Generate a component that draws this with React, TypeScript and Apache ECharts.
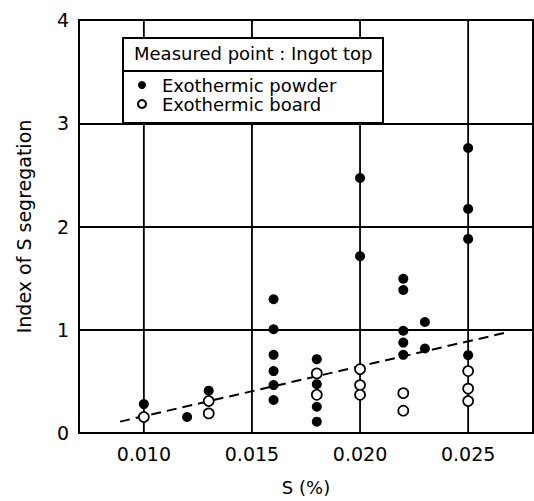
import React, { useEffect, useRef } from "react";
import * as echarts from "echarts";

const xTickValues = [0.01, 0.015, 0.02, 0.025];
const yTickLabels = ["0", "1", "2", "3", "4"];

const powderPoints: [number, number][] = [
  [0.010, 0.28], [0.012, 0.155], [0.013, 0.41],
  [0.016, 1.295], [0.016, 1.005], [0.016, 0.757], [0.016, 0.60], [0.016, 0.464], [0.016, 0.32],
  [0.018, 0.715], [0.018, 0.473], [0.018, 0.254], [0.018, 0.11],
  [0.020, 2.47], [0.020, 1.713],
  [0.022, 1.494], [0.022, 1.385], [0.022, 0.99], [0.022, 0.876], [0.022, 0.757],
  [0.023, 1.075], [0.023, 0.818],
  [0.025, 2.76], [0.025, 2.17], [0.025, 1.88], [0.025, 0.754],
];

const boardPoints: [number, number][] = [
  [0.010, 0.155], [0.013, 0.31], [0.013, 0.19],
  [0.018, 0.577], [0.018, 0.37],
  [0.020, 0.618], [0.020, 0.464], [0.020, 0.37],
  [0.022, 0.386], [0.022, 0.216],
  [0.025, 0.60], [0.025, 0.43], [0.025, 0.31],
];

const trendLine: [number, number][] = [
  [0.0089, 0.11],
  [0.0267, 0.97],
];

const FONT = "DejaVu Sans";
const Y_MIN = 0;
const Y_MAX = 4;

export default function App() {
  const ref = useRef<HTMLDivElement>(null);
  useEffect(() => {
    if (!ref.current) return;
    const chart = echarts.init(ref.current, undefined, { renderer: "svg" });
    const verticals = xTickValues.map((v) => ({
      name: "grid-" + v,
      type: "line",
      data: [
        [v, Y_MIN],
        [v, Y_MAX],
      ],
      symbol: "none",
      silent: true,
      z: 1,
      lineStyle: { color: "#000", width: 1.8 },
    }));
    chart.setOption({
      animation: false,
      backgroundColor: "#fff",
      textStyle: { fontFamily: FONT },
      grid: {
        left: 79,
        right: 1,
        top: 20,
        bottom: 67,
        show: true,
        borderColor: "#000",
        borderWidth: 2,
        backgroundColor: "transparent",
      },
      xAxis: {
        type: "value",
        min: 0.007,
        max: 0.028,
        name: "S (%)",
        nameLocation: "middle",
        nameGap: 45,
        nameTextStyle: { fontSize: 18, color: "#000", fontFamily: FONT },
        axisLine: { show: true, lineStyle: { color: "#000", width: 2 } },
        axisTick: { show: false },
        splitLine: { show: false },
        axisLabel: {
          customValues: xTickValues,
          formatter: (v: number) => v.toFixed(3),
          fontSize: 19,
          color: "#000",
          margin: 11,
          fontFamily: FONT,
        },
      },
      yAxis: {
        type: "value",
        min: Y_MIN,
        max: Y_MAX,
        interval: 1,
        name: "Index of S segregation",
        nameLocation: "middle",
        nameGap: 46,
        nameTextStyle: { fontSize: 19, color: "#000", fontFamily: FONT },
        axisLine: { show: true, lineStyle: { color: "#000", width: 2 } },
        axisTick: { show: false },
        splitLine: { show: true, lineStyle: { color: "#000", width: 1.8 } },
        axisLabel: {
          formatter: (v: number) => yTickLabels[Math.round(v)] ?? String(v),
          fontSize: 19,
          color: "#000",
          margin: 10,
          fontFamily: FONT,
        },
      },
      legend: {
        orient: "vertical",
        left: 132,
        top: 71,
        z: 20,
        itemWidth: 30,
        itemHeight: 8,
        itemGap: 1,
        icon: "circle",
        textStyle: { fontSize: 18, color: "#000", fontFamily: FONT },
        data: ["Exothermic powder", "Exothermic board"],
      },
      graphic: [
        {
          type: "rect",
          z: 15,
          shape: { x: 123, y: 38, width: 260, height: 85 },
          style: { fill: "#fff", stroke: "#000", lineWidth: 2 },
        },
        {
          type: "line",
          z: 16,
          shape: { x1: 123, y1: 71, x2: 383, y2: 71 },
          style: { stroke: "#000", lineWidth: 2 },
        },
        {
          type: "text",
          z: 16,
          left: 134,
          top: 44,
          style: {
            text: "Measured point : Ingot top",
            fontSize: 18,
            fontFamily: FONT,
            fill: "#000",
          },
        },
      ],
      series: [
        ...verticals,
        {
          name: "trend",
          type: "line",
          data: trendLine,
          symbol: "none",
          z: 3,
          lineStyle: { color: "#000", width: 2, type: [10, 6] },
        },
        {
          name: "Exothermic powder",
          type: "scatter",
          data: powderPoints,
          symbol: "circle",
          symbolSize: 10,
          z: 5,
          itemStyle: { color: "#000", opacity: 1 },
        },
        {
          name: "Exothermic board",
          type: "scatter",
          data: boardPoints,
          symbol: "circle",
          symbolSize: 10,
          z: 5,
          itemStyle: { color: "#fff", borderColor: "#000", borderWidth: 1.7, opacity: 1 },
        },
      ],
    });
    return () => chart.dispose();
  }, []);
  return (
    <div
      ref={ref}
      style={{ position: "fixed", left: 0, top: 0, width: 534, height: 501, background: "#fff" }}
    />
  );
}
